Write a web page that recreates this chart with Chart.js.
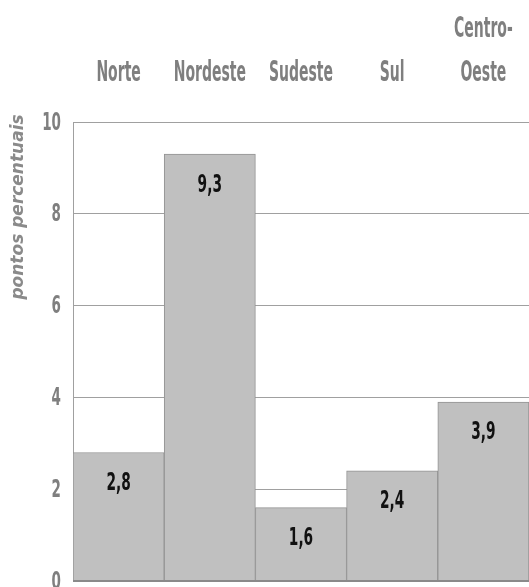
<!DOCTYPE html>
<html lang="pt">
<head>
<meta charset="utf-8">
<script src="https://cdn.jsdelivr.net/npm/chart.js@4/dist/chart.umd.min.js"></script>
<style>
  html, body { margin: 0; padding: 0; background: #ffffff; }
  #wrap { width: 529px; height: 587px; position: relative; }
</style>
</head>
<body>
<div id="wrap"><canvas id="chart"></canvas></div>
<script>
// Regiões e variação em pontos percentuais
const categories = ['Norte', 'Nordeste', 'Sudeste', 'Sul', ['Centro-', 'Oeste']];
const values = [2.8, 9.3, 1.6, 2.4, 3.9];
const yTicks = [0, 2, 4, 6, 8, 10];
const yTitle = 'pontos percentuais';

const GREY_TEXT = '#7f7f7f';
const NARROW = 0.5;

// Draws text squeezed horizontally to mimic a condensed typeface
function narrowText(ctx, str, x, y, font, color, sx, align, baseline) {
  ctx.save();
  ctx.font = font;
  ctx.fillStyle = color;
  ctx.textAlign = align;
  ctx.textBaseline = baseline;
  ctx.translate(x, y);
  ctx.scale(sx, 1);
  ctx.fillText(str, 0, 0);
  ctx.restore();
}

const fmt = v => v.toFixed(1).replace('.', ',');

const labelsPlugin = {
  id: 'labelsPlugin',
  afterDatasetsDraw(chart) {
    const ctx = chart.ctx;
    const xs = chart.scales.x;
    const ys = chart.scales.y;
    const area = chart.chartArea;

    // baseline axis line
    const y0 = ys.getPixelForValue(0);
    ctx.save();
    ctx.strokeStyle = '#8a8a8a';
    ctx.lineWidth = 2;
    ctx.beginPath();
    ctx.moveTo(area.left, y0);
    ctx.lineTo(area.right, y0);
    ctx.stroke();
    ctx.restore();

    // value labels inside the bars
    const meta = chart.getDatasetMeta(0);
    meta.data.forEach((bar, i) => {
      narrowText(ctx, fmt(values[i]), bar.x, bar.y + 31,
        'bold 25px "DejaVu Sans"', '#111111', NARROW + 0.05, 'center', 'middle');
    });

    // category labels above the plot
    categories.forEach((c, i) => {
      const lines = Array.isArray(c) ? c : [c];
      const x = xs.getPixelForValue(i);
      lines.slice().reverse().forEach((ln, k) => {
        narrowText(ctx, ln, x, area.top - 41 - k * 44,
          'bold 28px "DejaVu Sans"', GREY_TEXT, NARROW, 'center', 'alphabetic');
      });
    });

    // y tick labels
    yTicks.forEach(t => {
      narrowText(ctx, String(t), area.left - 12, ys.getPixelForValue(t) + 1,
        'bold 25px "DejaVu Sans"', GREY_TEXT, NARROW + 0.04, 'right', 'middle');
    });

    // y axis title
    ctx.save();
    ctx.translate(19, 207);
    ctx.rotate(-Math.PI / 2);
    ctx.font = 'italic bold 17px "DejaVu Sans"';
    ctx.fillStyle = '#8a8a8a';
    ctx.textAlign = 'center';
    ctx.textBaseline = 'middle';
    ctx.fillText(yTitle, 0, 0);
    ctx.restore();
  }
};

new Chart(document.getElementById('chart'), {
  type: 'bar',
  data: {
    labels: categories,
    datasets: [{
      data: values,
      backgroundColor: '#c0c0c0',
      borderColor: '#939393',
      borderWidth: 1,
      borderSkipped: 'start',
      barPercentage: 1,
      categoryPercentage: 1
    }]
  },
  options: {
    responsive: true,
    maintainAspectRatio: false,
    animation: false,
    layout: { padding: { left: 73, top: 122, right: 0, bottom: 6 } },
    plugins: { legend: { display: false }, tooltip: { enabled: false } },
    scales: {
      x: { display: false },
      y: {
        min: 0,
        max: 10,
        ticks: { display: false, stepSize: 2 },
        grid: { drawTicks: false, color: '#a0a0a0', lineWidth: 1 },
        border: { display: true, color: '#a0a0a0', width: 1 }
      }
    }
  },
  plugins: [labelsPlugin]
});
</script>
</body>
</html>
